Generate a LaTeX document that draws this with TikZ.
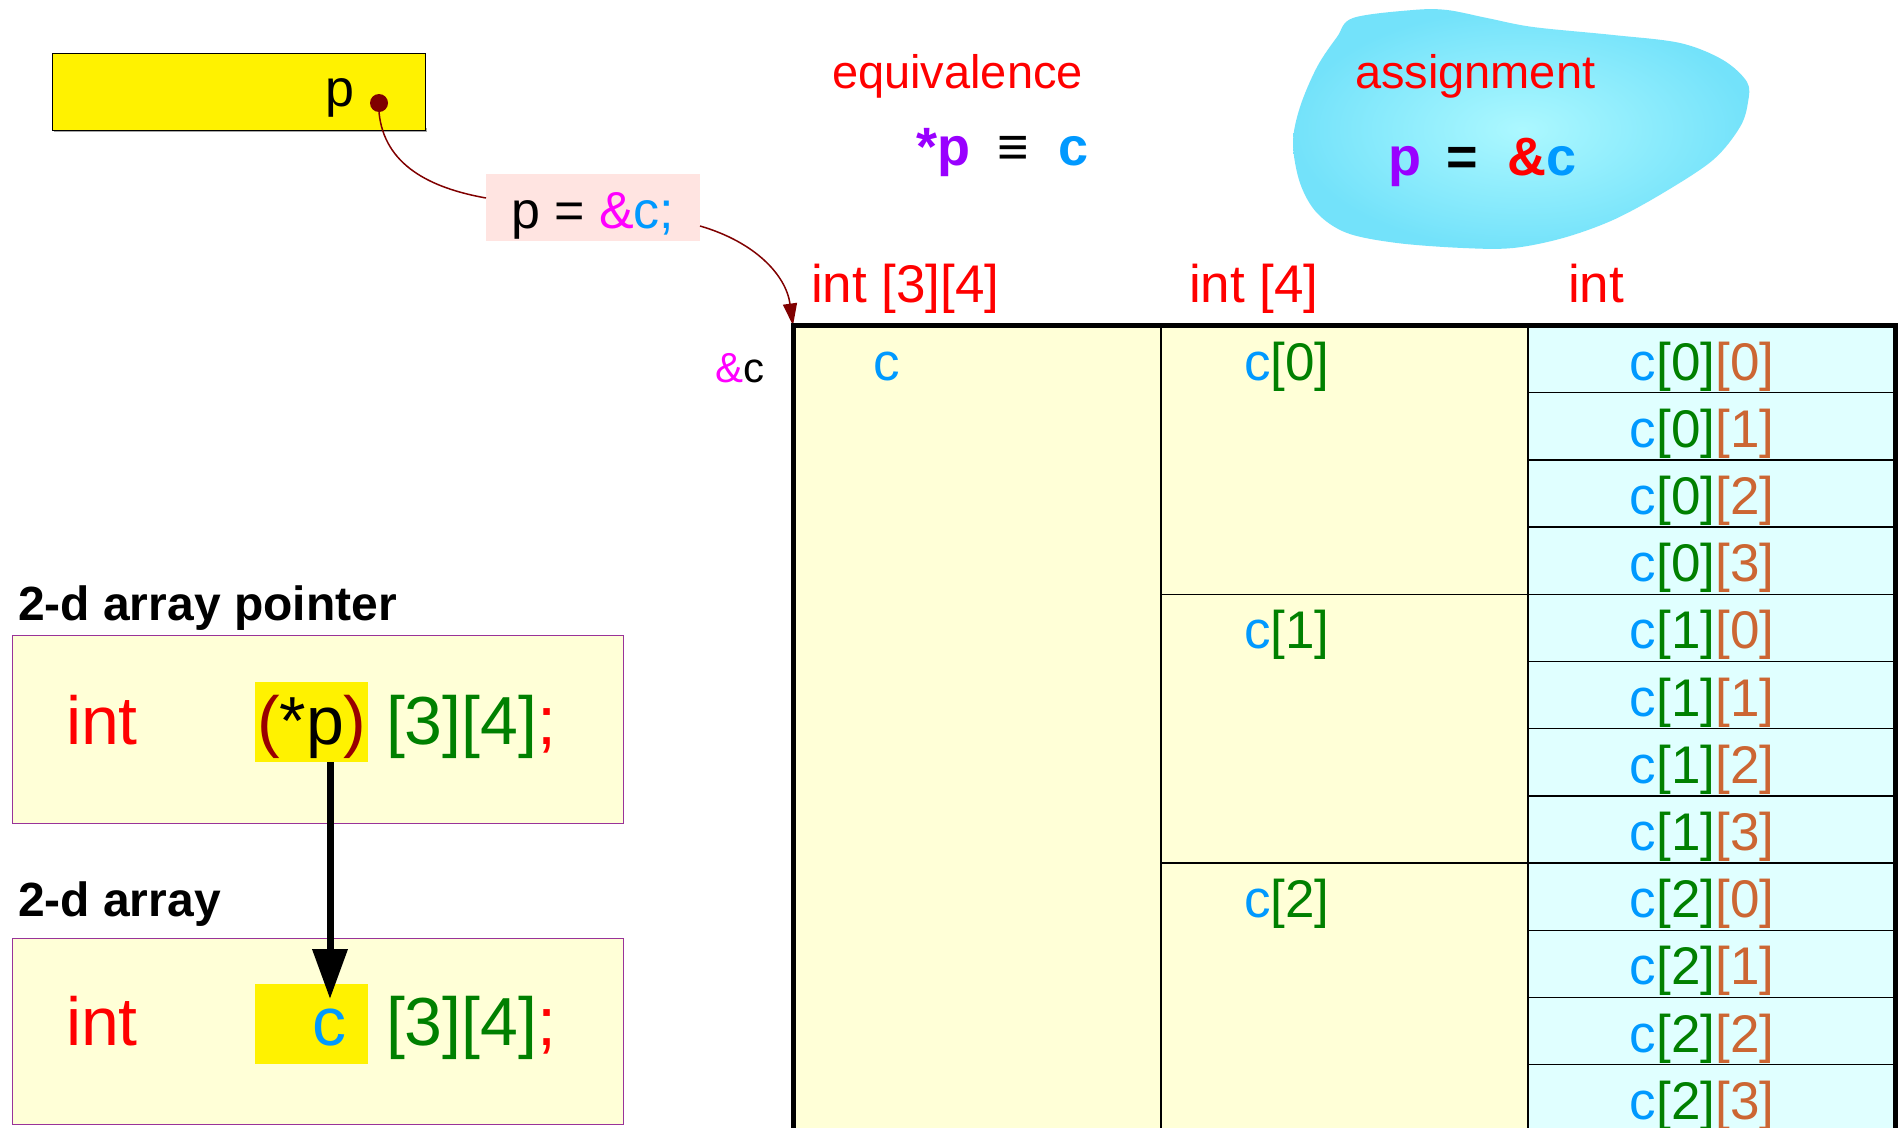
\documentclass[tikz,border=0pt]{standalone}
\usepackage{fontspec}
\setmainfont{Liberation Sans}
\usetikzlibrary{arrows.meta,calc}
\definecolor{cred}{RGB}{255,0,0}
\definecolor{cblue}{RGB}{0,153,255}
\definecolor{cgreen}{RGB}{0,128,0}
\definecolor{corange}{RGB}{204,102,51}
\definecolor{cmag}{RGB}{255,0,255}
\definecolor{cpurple}{RGB}{153,0,255}
\definecolor{cmaroon}{RGB}{128,0,0}
\definecolor{cparen}{RGB}{153,0,0}
\definecolor{lyellow}{RGB}{255,255,215}
\definecolor{lcyan}{RGB}{224,255,255}
\definecolor{lpink}{RGB}{255,228,225}
\definecolor{boxborder}{RGB}{153,51,153}
\definecolor{blobout}{RGB}{115,226,250}
\definecolor{blobin}{RGB}{172,248,255}
\newcommand{\fsz}[1]{\fontsize{#1}{#1}\selectfont}
\newcommand{\cij}[2]{\textcolor{cblue}{c}\textcolor{cgreen}{[#1]}\textcolor{corange}{[#2]}}
\newcommand{\ci}[1]{\textcolor{cblue}{c}\textcolor{cgreen}{[#1]}}
\begin{document}
\begin{tikzpicture}[x=1pt,y=-1pt,
  txt/.style={inner sep=0pt, outer sep=0pt, anchor=base west},
  txtc/.style={inner sep=0pt, outer sep=0pt, anchor=base},
  rect/.style={inner sep=0pt, outer sep=0pt, anchor=north west},
  thin/.style={line width=1.5pt},
  thick/.style={line width=5pt}]
\useasboundingbox (0,0) rectangle (1900,1127);
\fill[white] (0,0) rectangle (1900,1127);

% pointer variable box
\fill[gray!70] (54,128) rectangle (427,132);
\node[rect, draw=black, line width=1pt, fill=yellow, minimum width=373pt, minimum height=77pt] (pbox) at (52,53) {};
\node[txt, font=\fsz{52}] (ptxt) at (325,106) {p};
\node[circle, fill=cmaroon, minimum size=18pt, inner sep=0pt] (pdot) at (379,103) {};

% assignment label box
\node[rect, fill=lpink, minimum width=214pt, minimum height=67pt] (assign) at (486,174) {};
\node[txt, font=\fsz{52}] (assigntxt) at (511,228) {p = \textcolor{cmag}{\&}\textcolor{cblue}{c;}};
\coordinate (ain) at (486,198);
\coordinate (aout) at (700,226);
\coordinate (tl) at (793,325.5);
\draw[cmaroon, line width=1.5pt] (pdot.south) .. controls (384,165) and (430,188) .. (ain);
\draw[cmaroon, line width=1.5pt, -{Triangle[length=22pt,width=14pt]}] (aout) .. controls (755,242) and (786,275) .. (tl);

% equivalence / assignment
\node[txt, font=\fsz{47}, text=cred] (eqlabel) at (832,88) {equivalence};
\node[txt, font=\fsz{54}\bfseries] (eqexpr) at (916,165) {\textcolor{cpurple}{*p}\hspace{27pt}≡\hspace{30pt}\textcolor{cblue}{c}};
\shade[inner color=blobin, outer color=blobout]
  plot[smooth cycle, tension=0.55] coordinates {(1353,18) (1413,10) (1447,10) (1487,18) (1533,27) (1613,35) (1680,43) (1723,60) (1747,82) (1748,102) (1740,127) (1713,160) (1663,193) (1613,220) (1563,238) (1513,248) (1463,248) (1397,243) (1347,233) (1317,213) (1300,183) (1293,143) (1300,107) (1317,67) (1337,37)};
\node[txt, font=\fsz{47}, text=cred] (aslabel) at (1355,88) {assignment};
\node[txt, font=\fsz{54}\bfseries] (asexpr) at (1388,175) {\textcolor{cpurple}{p}\hspace{25pt}=\hspace{30pt}\textcolor{cred}{\&}\textcolor{cblue}{c}};

% type headers
\node[txt, font=\fsz{53}, text=cred] (h1) at (811,302) {int [3][4]};
\node[txt, font=\fsz{53}, text=cred] (h2) at (1189,302) {int [4]};
\node[txt, font=\fsz{53}, text=cred] (h3) at (1568,302) {int};

% table
\fill[lyellow] (793,325.5) rectangle (1528,1135);
\fill[lcyan] (1528,325.5) rectangle (1895,1135);
\draw[thin] (1161,325.5) -- (1161,1135);
\draw[thin] (1528,325.5) -- (1528,1135);
\foreach \k in {1,...,11} {
  \draw[thin] (1528,325.5+67.2*\k) -- (1895,325.5+67.2*\k);
}
\foreach \k in {4,8} {
  \draw[thin] (1161,325.5+67.2*\k) -- (1528,325.5+67.2*\k);
}
\draw[thick] (793,1135) -- (793,325.5) -- (1895,325.5) -- (1895,1135);

\node[txt, font=\fsz{42}] (amp) at (715,382) {\textcolor{cmag}{\&}c};
\node[txt, font=\fsz{53}, text=cblue] (cc) at (873,380) {c};
\foreach \i in {0,1,2} {
  \node[txt, font=\fsz{53}] (c\i) at (1244,380+268.8*\i) {\ci{\i}};
  \foreach \j in {0,1,2,3} {
    \node[txtc, font=\fsz{53}] (c\i\j) at (1702,380+268.8*\i+67.2*\j) {\cij{\i}{\j}};
  }
}

% declarations
\node[txt, font=\fsz{48}\bfseries] (t1) at (18,620) {2-d array pointer};
\node[rect, draw=boxborder, line width=1pt, fill=lyellow, minimum width=611pt, minimum height=188pt] (decl1) at (12,635) {};
\node[rect, fill=yellow, minimum width=113pt, minimum height=80pt] (hl1) at (255,682) {};
\node[txt, font=\fsz{68}, text=cred] (int1) at (66,744) {int};
\node[txt, font=\fsz{68}] (ptr1) at (257,744) {\textcolor{cparen}{(}*p\textcolor{cparen}{)}};
\node[txt, font=\fsz{68}] (dim1) at (386,744) {\textcolor{cgreen}{[3][4]}\textcolor{cred}{;}};

\node[txt, font=\fsz{48}\bfseries] (t2) at (18,916) {2-d array};
\node[rect, draw=boxborder, line width=1pt, fill=lyellow, minimum width=611pt, minimum height=186pt] (decl2) at (12,938) {};
\node[rect, fill=yellow, minimum width=113pt, minimum height=80pt] (hl2) at (255,984) {};
\node[txt, font=\fsz{68}, text=cred] (int2) at (66,1045) {int};
\node[txt, font=\fsz{68}, text=cblue] (arr2) at (312,1045) {c};
\node[txt, font=\fsz{68}] (dim2) at (386,1045) {\textcolor{cgreen}{[3][4]}\textcolor{cred}{;}};

\coordinate (arrend) at (330,999);
\draw[line width=7pt, -{Triangle[length=50pt,width=34pt]}] (hl1.south -| arrend) -- (arrend);
\end{tikzpicture}
\end{document}
